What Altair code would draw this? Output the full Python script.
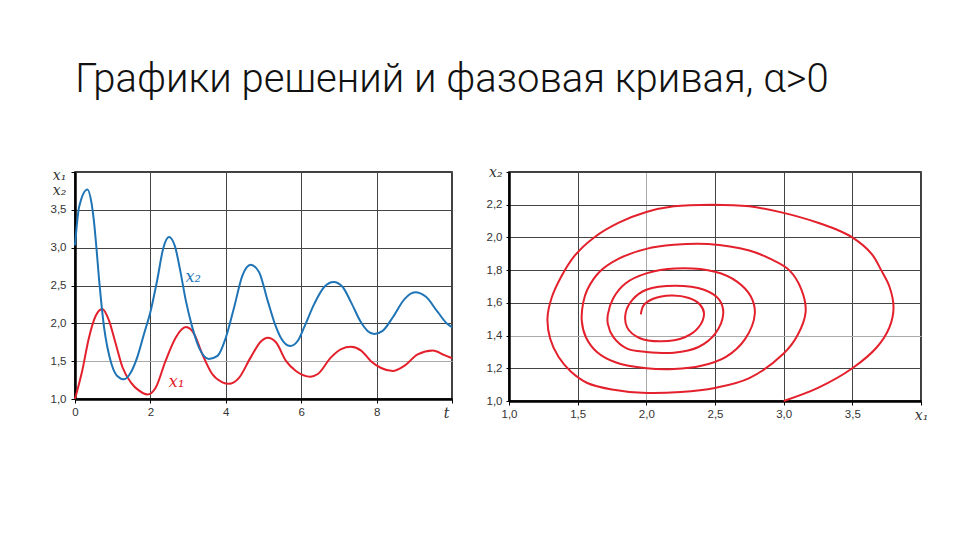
import altair as alt
import pandas as pd

# ---------- data ----------
# time series x2 (blue)
t_x2 = [0, 0.11, 0.33, 0.44, 0.50, 0.57, 0.64, 0.70, 0.77, 0.86, 0.97, 1.12, 1.30, 1.48,
        1.65, 1.83, 2.01, 2.18, 2.34, 2.49, 2.65, 2.79, 2.94, 3.11, 3.29, 3.55, 3.78, 4.00,
        4.22, 4.44, 4.66, 4.88, 5.11, 5.29, 5.46, 5.71, 5.91, 6.08, 6.35, 6.61, 6.86, 7.10,
        7.32, 7.59, 7.76, 7.94, 8.16, 8.43, 8.74, 9.02, 9.31, 9.62, 9.88, 10.0]
x2_vals = [3.03, 3.54, 3.77, 3.585, 3.36, 2.99, 2.57, 2.26, 1.95, 1.68, 1.46, 1.305, 1.26, 1.35,
           1.55, 1.86, 2.17, 2.57, 2.99, 3.14, 3.02, 2.70, 2.30, 1.95, 1.68, 1.53, 1.57, 1.81,
           2.21, 2.63, 2.775, 2.68, 2.30, 2.01, 1.81, 1.70, 1.77, 1.95, 2.26, 2.48, 2.545, 2.48,
           2.28, 2.01, 1.90, 1.86, 1.90, 2.08, 2.32, 2.41, 2.35, 2.15, 1.99, 1.95]

# time series x1 (red)
t_x1 = [0, 0.19, 0.37, 0.55, 0.725, 0.90, 1.08, 1.26, 1.48, 1.70, 1.92, 2.14, 2.40, 2.67,
        2.94, 3.16, 3.38, 3.64, 3.91, 4.08, 4.35, 4.66, 4.93, 5.11, 5.33, 5.60, 5.86, 6.25,
        6.44, 6.79, 7.06, 7.32, 7.59, 7.85, 8.12, 8.43, 8.74, 9.09, 9.49, 9.80, 10.0]
x1_vals = [1.0, 1.37, 1.81, 2.10, 2.19, 2.04, 1.73, 1.42, 1.22, 1.11, 1.06, 1.15, 1.50, 1.81,
           1.95, 1.86, 1.59, 1.33, 1.22, 1.20, 1.28, 1.55, 1.76, 1.81, 1.75, 1.50, 1.37, 1.295,
           1.33, 1.55, 1.66, 1.69, 1.64, 1.50, 1.41, 1.37, 1.44, 1.59, 1.64, 1.58, 1.54]

# phase curve (x1 horizontal, x2 vertical), in drawing order
ph_x1 = [3.00, 3.25, 3.50, 3.68, 3.77, 3.80, 3.77, 3.71, 3.64, 3.50, 3.38, 3.25, 3.00, 2.75,
         2.48, 2.20, 2.00, 1.80, 1.62, 1.48, 1.38, 1.31, 1.28, 1.30, 1.36, 1.45, 1.57, 1.75,
         1.97, 2.25, 2.50, 2.75, 3.00, 3.10, 3.16, 3.13, 3.04, 2.90, 2.75, 2.45, 2.20, 2.00,
         1.80, 1.66, 1.57, 1.54, 1.53, 1.56, 1.64, 1.78, 2.00, 2.20, 2.40, 2.58, 2.72, 2.79,
         2.76, 2.66, 2.50, 2.21, 2.00, 1.85, 1.76, 1.72, 1.72, 1.76, 1.86, 2.00, 2.20, 2.38,
         2.50, 2.56, 2.53, 2.42, 2.21, 2.00, 1.90, 1.85, 1.86, 1.95, 2.11, 2.28, 2.38, 2.42,
         2.39, 2.31, 2.18, 2.05, 1.98, 1.96]
ph_x2 = [1.00, 1.08, 1.20, 1.33, 1.45, 1.57, 1.70, 1.80, 1.90, 2.00, 2.05, 2.09, 2.15, 2.19,
         2.20, 2.19, 2.155, 2.09, 2.00, 1.89, 1.76, 1.63, 1.505, 1.38, 1.27, 1.18, 1.11, 1.07,
         1.05, 1.055, 1.08, 1.14, 1.29, 1.40, 1.545, 1.68, 1.80, 1.87, 1.92, 1.96, 1.955, 1.93,
         1.87, 1.79, 1.68, 1.60, 1.49, 1.39, 1.30, 1.235, 1.20, 1.195, 1.215, 1.27, 1.38, 1.535,
         1.64, 1.73, 1.79, 1.81, 1.78, 1.72, 1.63, 1.53, 1.47, 1.39, 1.32, 1.30, 1.295, 1.33,
         1.41, 1.535, 1.62, 1.68, 1.705, 1.68, 1.62, 1.54, 1.45, 1.385, 1.365, 1.39, 1.45, 1.535,
         1.59, 1.63, 1.645, 1.625, 1.585, 1.53]

left_x_ticks = [0, 2, 4, 6, 8, 10]
left_y_ticks = [1.0, 1.5, 2.0, 2.5, 3.0, 3.5, 4.0]
right_x_ticks = [1.0, 1.5, 2.0, 2.5, 3.0, 3.5, 4.0]
right_y_ticks = [1.0, 1.2, 1.4, 1.6, 1.8, 2.0, 2.2, 2.4]

series_names = ["x1", "x2"]
series_colors = ["#e3202b", "#1f74b6"]
labels_text = ["x\u2081", "x\u2082"]
labels_t = [2.49, 2.93]
labels_v = [1.22, 2.61]

TITLE = "Графики решений и фазовая кривая, α>0"

# ---------- tables ----------
ts = pd.concat([
    pd.DataFrame({"t": t_x1, "v": x1_vals, "series": "x1"}),
    pd.DataFrame({"t": t_x2, "v": x2_vals, "series": "x2"}),
])
phase = pd.DataFrame({"a": ph_x1, "b": ph_x2, "k": list(range(len(ph_x1)))})
lab = pd.DataFrame({"t": labels_t, "v": labels_v, "txt": labels_text, "series": series_names})

LBL_FONT = "Liberation Sans"
SERIF = "DejaVu Serif"
comma = "replace(format(datum.value, '.1f'), '.', ',')"


def cond(test, a, b):
    return {"condition": {"test": test, "value": a}, "value": b}


color_scale = alt.Scale(domain=series_names, range=series_colors)

# ---------- left panel ----------
lx = alt.X("t:Q", scale=alt.Scale(domain=[0, 10], nice=False, zero=False),
           axis=alt.Axis(values=left_x_ticks, title=None, labelOverlap=False, labelFlush=False,
                         labelExpr="datum.value == 10 ? 't' : datum.label",
                         labelFont=cond("datum.value == 10", SERIF, LBL_FONT),
                         labelFontStyle=cond("datum.value == 10", "italic", "normal"),
                         labelFontSize=cond("datum.value == 10", 14, 11.5),
                         labelOffset=cond("datum.value == 10", -6, 0),
                         labelColor="#333", labelPadding=3,
                         gridColor="#444", gridWidth=1,
                         domainColor="#000", domainWidth=2.5, tickColor="#000", tickSize=4))
ly = alt.Y("v:Q", scale=alt.Scale(domain=[1, 4], nice=False, zero=False),
           axis=alt.Axis(values=left_y_ticks, title=["x\u2081", "x\u2082"], labelOverlap=False,
                         labelFlush=False,
                         titleAngle=0, titleX=-16, titleY=-4, titleAlign="center", titleBaseline="top",
                         titleFont=SERIF, titleFontStyle="italic", titleFontWeight="normal",
                         titleFontSize=14, titleColor="#333", titleLineHeight=15,
                         labelExpr="datum.value == 4 ? '' : " + comma,
                         labelFont=LBL_FONT, labelFontSize=11.5, labelColor="#333", labelPadding=5,
                         gridColor=cond("datum.value == 1.5", "#aaa", "#444"),
                         gridWidth=1,
                         domainColor="#000", domainWidth=2.5, tickColor="#000", tickSize=4))

left_lines = alt.Chart(ts).mark_line(strokeWidth=2, interpolate="monotone").encode(
    x=lx, y=ly,
    color=alt.Color("series:N", scale=color_scale, legend=None),
)
left_labels = alt.Chart(lab).mark_text(font=SERIF, fontStyle="italic", fontSize=16, align="left").encode(
    x=lx, y=ly, text="txt:N",
    color=alt.Color("series:N", scale=color_scale, legend=None),
)
left = alt.layer(left_lines, left_labels).properties(width=377, height=227)

# ---------- right panel ----------
rx = alt.X("a:Q", scale=alt.Scale(domain=[1, 4], nice=False, zero=False),
           axis=alt.Axis(values=right_x_ticks, title=None, labelOverlap=False, labelFlush=False,
                         labelExpr="datum.value == 4 ? 'x\u2081' : " + comma,
                         labelFont=cond("datum.value == 4", SERIF, LBL_FONT),
                         labelFontStyle=cond("datum.value == 4", "italic", "normal"),
                         labelFontSize=cond("datum.value == 4", 14, 11.5),
                         labelColor="#333", labelPadding=3,
                         gridColor=cond("datum.value == 2", "#aaa", "#444"),
                         gridWidth=1,
                         domainColor="#000", domainWidth=2.5, tickColor="#000", tickSize=4))
ry = alt.Y("b:Q", scale=alt.Scale(domain=[1, 2.4], nice=False, zero=False),
           axis=alt.Axis(values=right_y_ticks, title=None, labelOverlap=False, labelFlush=False,
                         labelExpr="datum.value == 2.4 ? 'x\u2082' : " + comma,
                         labelFont=cond("datum.value == 2.4", SERIF, LBL_FONT),
                         labelFontStyle=cond("datum.value == 2.4", "italic", "normal"),
                         labelFontSize=cond("datum.value == 2.4", 14, 11.5),
                         labelColor="#333", labelPadding=4,
                         gridColor=cond("datum.value == 1.4", "#aaa", "#444"),
                         gridWidth=1,
                         domainColor="#000", domainWidth=2.5, tickColor="#000", tickSize=3))

right = alt.Chart(phase).mark_line(strokeWidth=2, interpolate="catmull-rom", color=series_colors[0]).encode(
    x=rx, y=ry, order="k:Q",
).properties(width=412, height=229)

chart = alt.hconcat(left, right, spacing=57, bounds="flush").properties(
    title=alt.TitleParams(TITLE, anchor="start", font="Roboto", fontWeight=300, fontSize=40,
                          color="#111", offset=64, dx=26),
    padding={"left": 41, "top": 52, "right": 5, "bottom": 5},
).configure_view(stroke="#000", strokeWidth=1.5)

chart.save("out.html", embed_options={"renderer": "svg", "actions": False})
